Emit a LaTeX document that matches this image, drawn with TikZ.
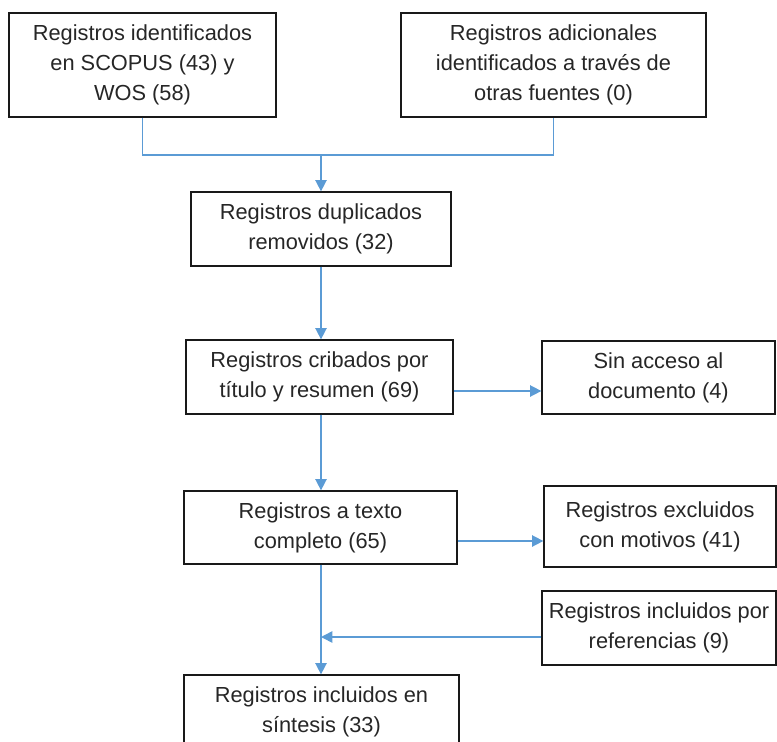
\documentclass[tikz,border=0pt]{standalone}
\usepackage{fontspec}
\setmainfont{Liberation Sans}
\usepackage{xcolor}
\usetikzlibrary{calc, arrows.meta}
\definecolor{linkblue}{HTML}{5B9BD5}
\tikzstyle{every node}=[font=\fontsize{15.5}{21.3}\selectfont, text=black!85]

\begin{document}
\begin{tikzpicture}[x=0.025cm, y=-0.025cm,
	box/.style={draw=black!90, line width=0.9pt, align=center, inner sep=0pt},
	link/.style={draw=linkblue, line width=1.1pt},
	arr/.style={link, -{Triangle[length=8pt, width=8pt]}}]
	\useasboundingbox (0,0) rectangle (777,742);

% identificacion
	\node[box, minimum width=267*0.025cm, minimum height=104*0.025cm] (ident) at (142.5,65) {Registros identificados\\en SCOPUS (43) y\\WOS (58)};
	\node[box, minimum width=305*0.025cm, minimum height=104*0.025cm] (otras) at (553.5,65) {Registros adicionales\\identificados a través de\\otras fuentes (0)};
	\coordinate (merge) at (321,155);

% cribado
	\node[box, minimum width=260*0.025cm, minimum height=74*0.025cm] (dupl) at (321,229) {Registros duplicados\\removidos (32)};
	\node[box, minimum width=267*0.025cm, minimum height=74*0.025cm] (crib) at (319.5,377) {Registros cribados por\\título y resumen (69)};
	\node[box, minimum width=233*0.025cm, minimum height=73*0.025cm] (sinacc) at (658.5,377.5) {Sin acceso al\\documento (4)};

% elegibilidad
	\node[box, minimum width=273*0.025cm, minimum height=73*0.025cm] (texto) at (320.5,527.5) {Registros a texto\\completo (65)};
	\node[box, minimum width=232*0.025cm, minimum height=81*0.025cm] (excl) at (660,526.5) {Registros excluidos\\con motivos (41)};
	\node[box, minimum width=234*0.025cm, minimum height=74*0.025cm] (refs) at (659,628) {Registros incluidos por\\referencias (9)};

% incluidos
	\node[box, minimum width=275*0.025cm, minimum height=74*0.025cm] (sint) at (321.5,712) {Registros incluidos en\\síntesis (33)};

% links
	\draw[link] (ident.south) |- (merge) -| (otras.south);
	\draw[arr] (merge) -- (dupl.north);
	\draw[arr] (dupl.south -| merge) -- (crib.north -| merge);
	\draw[arr] ($(crib.east)+(0,14)$) -- ($(crib.east -| sinacc.west)+(0,14)$);
	\draw[arr] (crib.south -| merge) -- (texto.north -| merge);
	\draw[arr] ($(texto.east)+(0,13.5)$) -- ($(texto.east -| excl.west)+(0,13.5)$);
	\draw[arr] (texto.south -| merge) -- (sint.north -| merge);
	\draw[arr] ($(refs.west)+(0,9)$) -- ($(refs.west -| merge)+(0,9)$);

\end{tikzpicture}
\end{document}
